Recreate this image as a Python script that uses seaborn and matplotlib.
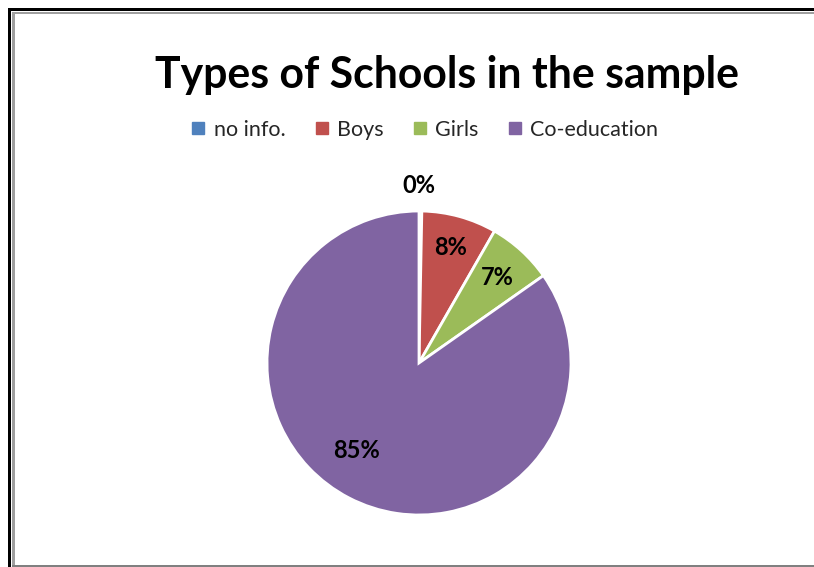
import matplotlib
matplotlib.use("Agg")
import matplotlib.pyplot as plt
from matplotlib.lines import Line2D
from matplotlib.patches import Rectangle
import numpy as np
import seaborn as sns

categories = ["no info.", "Boys", "Girls", "Co-education"]
values = [0.3, 8, 7, 85]
colors = ["#4F81BD", "#C0504D", "#9BBB59", "#8064A2"]

sns.set_theme(style="white")
plt.rcParams['font.family'] = ['Lato', 'DejaVu Sans']

W, H = 814, 567
fig = plt.figure(figsize=(W / 100, H / 100), dpi=100)
fig.patch.set_facecolor("white")

# pie axes: center (419, 363) px, radius 152 px
cx, cy, r = 419, 363, 152
ax = fig.add_axes([(cx - r) / W, (H - cy - r) / H, 2 * r / W, 2 * r / H])
wedges, _ = ax.pie(values, colors=sns.color_palette(colors), startangle=90,
                   counterclock=False, radius=1,
                   wedgeprops=dict(edgecolor="white", linewidth=2))
ax.set_xlim(-1, 1)
ax.set_ylim(-1, 1)
ax.set_aspect("equal")
ax.axis("off")

# label placement (distance from centre, angle override)
label_dist = [1.17, 0.79, 0.76, 0.71]
label_angle = [None, None, None, -125.6]
total = sum(values)
for w, v, d, a in zip(wedges, values, label_dist, label_angle):
    ang = (w.theta1 + w.theta2) / 2 if a is None else a
    if w.theta2 - w.theta1 < 5:
        ang = 90
    x, y = d * np.cos(np.radians(ang)), d * np.sin(np.radians(ang))
    ax.text(x, y, f"{round(v / total * 100):.0f}%", ha="center", va="center",
            fontsize=17, fontweight="bold", color="black")

fig.text(447 / W, 1 - 75 / H, "Types of Schools in the sample", ha="center",
         va="center", fontsize=30.8, fontweight="bold", color="black")

handles = [Line2D([], [], marker="s", linestyle="", markersize=8.5,
                  markerfacecolor=c, markeredgecolor=c) for c in colors]
fig.legend(handles, categories, loc="center", bbox_to_anchor=(423 / W, 1 - 130 / H),
           ncol=4, frameon=False, fontsize=15.5, handletextpad=0.2,
           columnspacing=1.2, handlelength=1.0)

# frame lines around the chart (left, top and bottom only)
def px_rect(x0, y0, w, h, color):
    fig.add_artist(Rectangle((x0 / W, 1 - (y0 + h) / H), w / W, h / H,
                             transform=fig.transFigure, facecolor=color,
                             edgecolor="none"))

px_rect(8, 8, W - 8, 3, "black")
px_rect(8, 8, 3, H - 8, "black")
px_rect(12, 12, W - 12, 2, "#a0a0a0")
px_rect(12, 12, 3, H - 12, "#a0a0a0")
px_rect(12, 565, W - 12, 2, "#808080")

fig.savefig("out.png", dpi=100, facecolor="white")
